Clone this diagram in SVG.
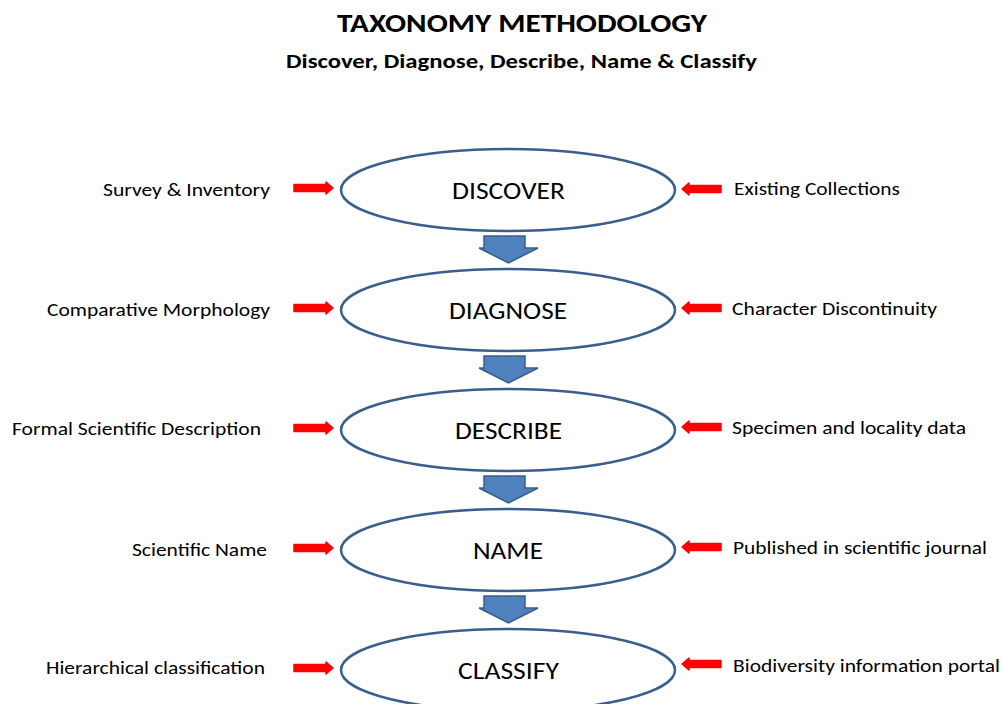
<svg xmlns="http://www.w3.org/2000/svg" width="1003" height="704" viewBox="0 0 1003 704">
<style>
.t{font-family:Carlito,"Liberation Sans",Arial,sans-serif;fill:#000}
.title{font-size:27px;font-weight:bold}
.sub{font-size:20.5px;font-weight:bold}
.lab{font-size:18.67px}
.node{font-size:24.5px}
.ell{fill:#fff;stroke:#3A5F8E;stroke-width:2.5}
.blk{fill:#4F81BD;stroke:#385D8A;stroke-width:1.5;stroke-linejoin:miter}
.red{fill:#FF0000;stroke:#FF0000;stroke-width:1.5;stroke-linejoin:round}
</style>
<rect width="1003" height="704" fill="#fff"/>
<g id="title">
<text class="t title" x="337" y="32" textLength="370" lengthAdjust="spacingAndGlyphs">TAXONOMY METHODOLOGY</text>
<text class="t sub" x="286" y="68" textLength="471" lengthAdjust="spacingAndGlyphs">Discover, Diagnose, Describe, Name &amp; Classify</text>
</g>
<g id="connectors">
<path class="blk" d="M484,236H525V248H538L508.5,263L479,248H484Z"/>
<path class="blk" d="M484,356H525V368H538L508.5,383L479,368H484Z"/>
<path class="blk" d="M484,476H525V488H538L508.5,503L479,488H484Z"/>
<path class="blk" d="M484,596H525V608H538L508.5,623L479,608H484Z"/>
<path class="red" d="M294,184.5H326V182L333,188L326,194V191.5H294Z"/>
<path class="red" d="M294,304.5H326V302L333,308L326,314V311.5H294Z"/>
<path class="red" d="M294,424.5H326V422L333,428L326,434V431.5H294Z"/>
<path class="red" d="M294,544.5H326V542L333,548L326,554V551.5H294Z"/>
<path class="red" d="M294,664.5H326V662L333,668L326,674V671.5H294Z"/>
<path class="red" d="M721,185.5H689V183L682,189L689,195V192.5H721Z"/>
<path class="red" d="M721,304.5H689V302L682,308L689,314V311.5H721Z"/>
<path class="red" d="M721,423.5H689V421L682,427L689,433V430.5H721Z"/>
<path class="red" d="M721,543.5H689V541L682,547L689,553V550.5H721Z"/>
<path class="red" d="M721,660.5H689V658L682,664L689,670V667.5H721Z"/>
</g>
<g id="discover">
<ellipse class="ell" cx="508" cy="190" rx="167" ry="41"/>
<text class="t node" x="452" y="199" textLength="113" lengthAdjust="spacingAndGlyphs">DISCOVER</text>
</g>
<g id="diagnose">
<ellipse class="ell" cx="508" cy="310" rx="167" ry="41"/>
<text class="t node" x="449" y="319" textLength="118" lengthAdjust="spacingAndGlyphs">DIAGNOSE</text>
</g>
<g id="describe">
<ellipse class="ell" cx="508" cy="430" rx="167" ry="41"/>
<text class="t node" x="455" y="439" textLength="107" lengthAdjust="spacingAndGlyphs">DESCRIBE</text>
</g>
<g id="name">
<ellipse class="ell" cx="508" cy="550" rx="167" ry="41"/>
<text class="t node" x="473" y="559" textLength="70" lengthAdjust="spacingAndGlyphs">NAME</text>
</g>
<g id="classify">
<ellipse class="ell" cx="508" cy="670" rx="167" ry="41"/>
<text class="t node" x="458" y="679" textLength="101" lengthAdjust="spacingAndGlyphs">CLASSIFY</text>
</g>
<g id="left-labels">
<text class="t lab" x="103" y="196" textLength="167" lengthAdjust="spacingAndGlyphs">Survey &amp; Inventory</text>
<text class="t lab" x="47" y="316" textLength="223" lengthAdjust="spacingAndGlyphs">Comparative Morphology</text>
<text class="t lab" x="12" y="435" textLength="249" lengthAdjust="spacingAndGlyphs">Formal Scientific Description</text>
<text class="t lab" x="132" y="556" textLength="135" lengthAdjust="spacingAndGlyphs">Scientific Name</text>
<text class="t lab" x="46" y="674" textLength="219" lengthAdjust="spacingAndGlyphs">Hierarchical classification</text>
</g>
<g id="right-labels">
<text class="t lab" x="734" y="195" textLength="166" lengthAdjust="spacingAndGlyphs">Existing Collections</text>
<text class="t lab" x="732" y="315" textLength="205" lengthAdjust="spacingAndGlyphs">Character Discontinuity</text>
<text class="t lab" x="732" y="434" textLength="234" lengthAdjust="spacingAndGlyphs">Specimen and locality data</text>
<text class="t lab" x="733" y="554" textLength="254" lengthAdjust="spacingAndGlyphs">Published in scientific journal</text>
<text class="t lab" x="733" y="672" textLength="267" lengthAdjust="spacingAndGlyphs">Biodiversity information portal</text>
</g>
</svg>
